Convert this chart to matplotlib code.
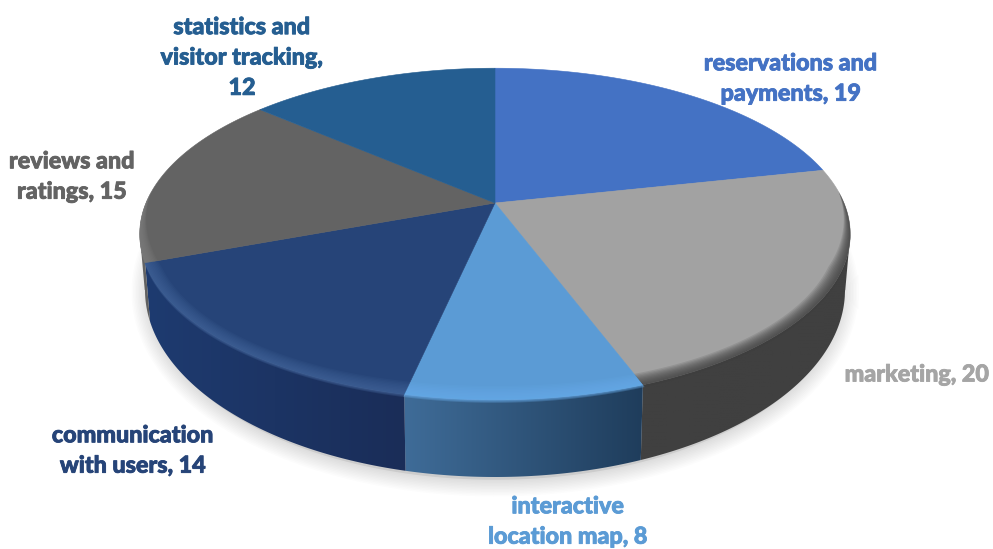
import numpy as np
import matplotlib
matplotlib.use('Agg')
import matplotlib.pyplot as plt
import matplotlib.patheffects as pe
from matplotlib.colors import LinearSegmentedColormap
from matplotlib.patches import Polygon

# Website feature counts, clockwise from 12 o'clock
categories = ["reservations and\npayments", "marketing", "interactive\nlocation map",
              "communication\nwith users", "reviews and\nratings", "statistics and\nvisitor tracking"]
values = [19, 20, 8, 14, 15, 12]

top_colors = ["#4472C4", "#A2A2A2", "#5B9BD5", "#264478", "#636363", "#255E91"]
label_colors = ["#4472C4", "#A5A5A5", "#5B9BD5", "#264478", "#636363", "#255E91"]
side_left = ["#4472C4", "#404040", "#3F6C98", "#1E3B70", "#6A6A6A", "#255E91"]
side_right = ["#4472C4", "#404040", "#1F3D5C", "#1A2D58", "#5A5A5A", "#255E91"]
rim_colors = [None, "#3E3E3E", "#6CB2F2", "#47699F", "#808080", None]
rim_alpha = [0, 0.15, 0.09, 0.11, 0.14, 0]
label_pos = [(791, 79), (917, 375), (568, 522), (133, 451), (72, 177), (242, 58)]

# Pie centre and tilt, in figure pixels
CX, CY = 495, 203
RX, RY, K = 349, 160, 0.187
# Lower edge of the extruded side
BOT_Y, BOT_A, BOT_B = 290, 350, 187
WIDEST = np.degrees(np.arcsin(K))


def top_rim(angle):
    a = np.radians(angle)
    u, v = np.sin(a), np.cos(a)
    d = 1 + K * v
    return CX + RX * u / d, CY - RY * v / d


def bottom_rim(angle):
    x, _ = top_rim(angle)
    dx = (x - CX) * BOT_A / 355
    y = BOT_Y + BOT_B * np.sqrt(np.clip(1 - (dx / BOT_A) ** 2, 0, 1))
    return CX + dx, y


def bevel_taper(angle):
    # full width along the front, narrowing to nothing towards the back
    return np.clip(-np.cos(np.radians(angle)) * 2.2 + 0.15, 0, 1)


fig = plt.figure(figsize=(9.93, 5.49), dpi=100)
ax = fig.add_axes([0, 0, 1, 1])

# Soft shadow under the body
t = np.linspace(0, 2 * np.pi, 300)
sx = CX + (BOT_A - 4) * np.cos(t)
sy = BOT_Y + 2 + BOT_B * np.sin(t)
for w in range(2, 38, 3):
    ax.plot(sx, sy, color="black", lw=w * 0.72, alpha=0.012, zorder=1)
ax.fill(sx, sy, color="#cccccc", zorder=1)

edges = np.cumsum([0] + values) / sum(values) * 360
front_start, front_end = 90 + WIDEST, 270 - WIDEST

# Extruded side, one gradient panel per slice
for i in range(len(values)):
    a0, a1 = max(edges[i], front_start), min(edges[i + 1], front_end)
    if a1 <= a0:
        continue
    ang = np.linspace(a0, a1, 80)
    tx, ty = top_rim(ang)
    bx, by = bottom_rim(ang)
    px = np.concatenate([tx, bx[::-1]])
    py = np.concatenate([ty, by[::-1]])
    poly = Polygon(np.column_stack([px, py]), closed=True, fc="none", ec="none")
    ax.add_patch(poly)
    cmap = LinearSegmentedColormap.from_list("side", [side_left[i], side_right[i]])
    grad = np.linspace(0, 1, 128).reshape(1, -1)
    im = ax.imshow(grad, cmap=cmap, extent=(px.min(), px.max(), py.max(), py.min()),
                   aspect="auto", zorder=2, interpolation="bilinear")
    im.set_clip_path(poly)

# Top face
for i in range(len(values)):
    ang = np.linspace(edges[i], edges[i + 1], 120)
    x, y = top_rim(ang)
    pts = np.column_stack([np.r_[CX, x], np.r_[CY, y]])
    ax.add_patch(Polygon(pts, closed=True, fc=top_colors[i], ec=top_colors[i], lw=0.4, zorder=3))

# Bevel along the front edge of the top face, built from stacked translucent bands
for i in range(len(values)):
    if rim_colors[i] is None:
        continue
    ang = np.linspace(edges[i], edges[i + 1], 160)
    x, y = top_rim(ang)
    dx, dy = CX - x, CY - y
    dist = np.hypot(dx, dy)
    taper = bevel_taper(ang)
    for w in np.arange(14, 0, -1.5):
        ix = x + dx / dist * w * taper
        iy = y + dy / dist * w * taper
        band = np.column_stack([np.r_[x, ix[::-1]], np.r_[y, iy[::-1]]])
        ax.add_patch(Polygon(band, closed=True, fc=rim_colors[i], ec="none",
                             alpha=rim_alpha[i], zorder=4))
    # the top colour bleeds a little onto the side below the edge
    out = np.clip(-np.cos(np.radians(ang)) * 2 - 0.4, 0, 1)
    for w in (1, 2, 3):
        ox = x - dx / dist * w * out
        oy = y - dy / dist * w * out
        band = np.column_stack([np.r_[x, ox[::-1]], np.r_[y, oy[::-1]]])
        ax.add_patch(Polygon(band, closed=True, fc=rim_colors[i], ec="none",
                             alpha=0.28, zorder=4))

# Labels in the slice colours
for i, (cat, val) in enumerate(zip(categories, values)):
    sep = ",\n" if i == len(values) - 1 else ", "
    txt = ax.text(label_pos[i][0], label_pos[i][1], f"{cat}{sep}{val}", color=label_colors[i],
                  family="Lato", weight="black", fontsize=16.8, ha="center", va="center",
                  linespacing=1.55, zorder=5)
    txt.set_path_effects([pe.withStroke(linewidth=0.6, foreground=label_colors[i])])

ax.set_xlim(0, 993)
ax.set_ylim(549, 0)
ax.axis("off")
fig.savefig("out.png", dpi=100)
